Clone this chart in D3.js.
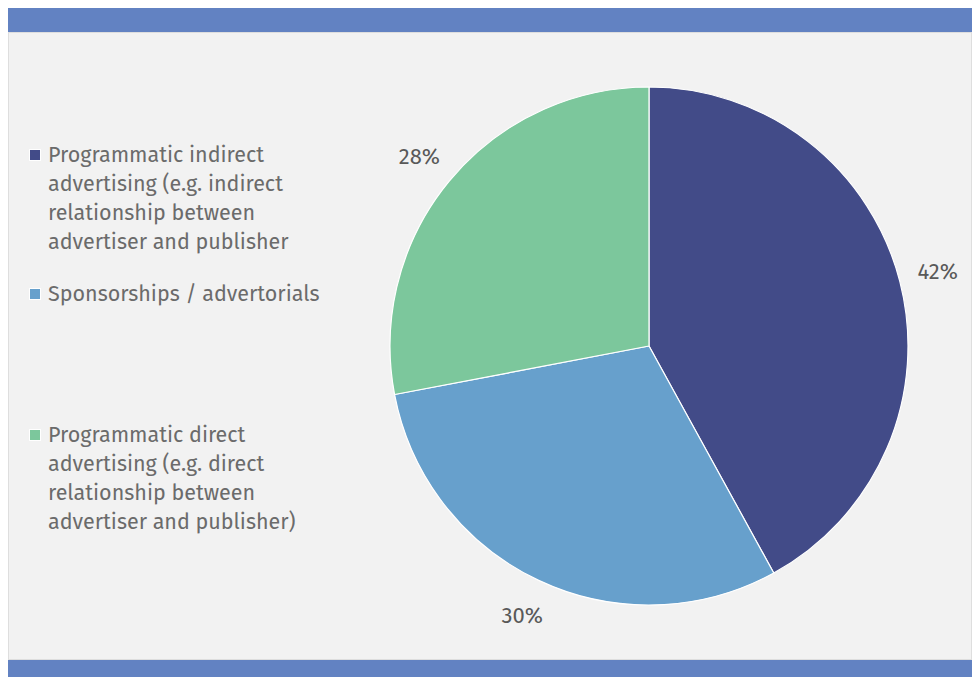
<!DOCTYPE html>
<html>
<head>
<meta charset="utf-8">
<script src="https://cdn.jsdelivr.net/npm/d3@7"></script>
<style>
  html, body { margin: 0; padding: 0; background: #ffffff; }
  svg { display: block; }
</style>
</head>
<body>
<script>
// Ad revenue split by channel
const categories = [
  "Programmatic indirect advertising (e.g. indirect relationship between advertiser and publisher",
  "Sponsorships / advertorials",
  "Programmatic direct advertising (e.g. direct relationship between advertiser and publisher)"
];
const legendLines = [
  ["Programmatic indirect", "advertising (e.g. indirect", "relationship between", "advertiser and publisher"],
  ["Sponsorships / advertorials"],
  ["Programmatic direct", "advertising (e.g. direct", "relationship between", "advertiser and publisher)"]
];
const values = [42, 30, 28];
const valueLabels = ["42%", "30%", "28%"];
const colors = ["#424b88", "#67a0cc", "#7cc79c"];

const W = 974, H = 677;
const svg = d3.select("body").append("svg").attr("width", W).attr("height", H);

// frame: panel with blue bands top and bottom
svg.append("rect").attr("x", 8.5).attr("y", 32.5).attr("width", 963).attr("height", 627)
  .attr("fill", "#f2f2f2").attr("stroke", "#dedede").attr("stroke-width", 1);
svg.append("rect").attr("x", 8).attr("y", 8).attr("width", 964).attr("height", 24).attr("fill", "#6282c2");
svg.append("rect").attr("x", 8).attr("y", 660).attr("width", 964).attr("height", 17).attr("fill", "#6282c2");

// pie
const cx = 649, cy = 346, R = 259;
const pie = d3.pie().sort(null).value(d => d)(values);
const arc = d3.arc().innerRadius(0).outerRadius(R);
const g = svg.append("g").attr("transform", `translate(${cx},${cy})`);
g.selectAll("path").data(pie).join("path")
  .attr("d", arc)
  .attr("fill", (d, i) => colors[i])
  .attr("stroke", "#ffffff").attr("stroke-width", 1.2).attr("stroke-linejoin", "round");

// outside value labels
const labelArc = d3.arc().innerRadius(298).outerRadius(298);
g.selectAll("text.val").data(pie).join("text")
  .attr("class", "val")
  .attr("transform", d => `translate(${labelArc.centroid(d)})`)
  .attr("text-anchor", "middle")
  .attr("dominant-baseline", "central")
  .attr("font-family", "'Fira Sans', 'Noto Sans', sans-serif")
  .attr("font-size", 22)
  .attr("fill", "#595959")
  .text((d, i) => valueLabels[i]);

// legend
const legendTop = [162, 301, 442];
const lineH = 29;
const leg = svg.append("g").attr("font-family", "'Fira Sans', 'Noto Sans', sans-serif")
  .attr("font-size", 21.5).attr("fill", "#6b6b6b");
legendLines.forEach((lines, i) => {
  const item = leg.append("g");
  item.append("rect").attr("x", 29.5).attr("y", legendTop[i] - 12.5).attr("width", 11).attr("height", 11)
    .attr("fill", colors[i]).attr("stroke", "#ffffff").attr("stroke-width", 1);
  item.selectAll("text").data(lines).join("text")
    .attr("x", 48).attr("y", (d, j) => legendTop[i] + j * lineH)
    .text(d => d);
  item.append("title").text(categories[i]);
});
</script>
</body>
</html>
